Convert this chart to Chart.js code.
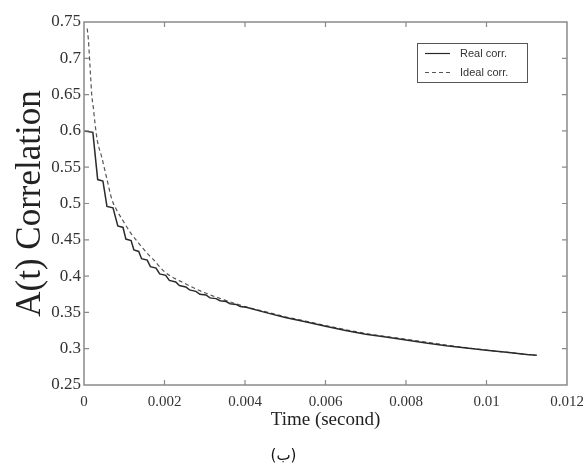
<!DOCTYPE html>
<html>
<head>
<meta charset="utf-8">
<script src="https://cdn.jsdelivr.net/npm/chart.js@4"></script>
<style>
  html, body { margin: 0; padding: 0; background: #ffffff; }
  #wrap { width: 583px; height: 473px; }
</style>
</head>
<body>
<div id="wrap"><canvas id="c" width="583" height="473"></canvas></div>
<script>
// ---- data ----
const seriesNames = ['Real corr.', 'Ideal corr.'];

// Real correlation: staircase corners (flat part start/end) then the smooth tail
const realTime = [0, 0.00022, 0.00034, 0.00047, 0.00057, 0.00072, 0.00084, 0.00097,
  0.00104, 0.00117, 0.00124, 0.00136, 0.00143, 0.00157, 0.00165, 0.00179,
  0.00188, 0.00203, 0.00212, 0.00228, 0.00237, 0.00253, 0.00262, 0.00278,
  0.00288, 0.00303, 0.00313, 0.00328, 0.00338, 0.00353, 0.00363, 0.00378,
  0.00388, 0.00403,
  0.0045, 0.005, 0.0055, 0.006, 0.0065, 0.007, 0.0075, 0.008, 0.0085, 0.009,
  0.0095, 0.01, 0.0105, 0.011, 0.01125];
const realValue = [0.600, 0.598, 0.533, 0.531, 0.496, 0.494, 0.469, 0.467,
  0.451, 0.449, 0.436, 0.434, 0.424, 0.422, 0.413, 0.411,
  0.403, 0.401, 0.394, 0.392, 0.387, 0.385, 0.381, 0.379,
  0.375, 0.374, 0.370, 0.369, 0.366, 0.365, 0.362, 0.361,
  0.358, 0.357,
  0.350, 0.343, 0.337, 0.331, 0.325, 0.320, 0.316, 0.312, 0.308, 0.304,
  0.301, 0.298, 0.295, 0.292, 0.291];

// Ideal correlation: smooth dashed curve
const idealTime = [0.00008, 0.00011, 0.00013, 0.00015, 0.00017, 0.00019, 0.00023, 0.00027, 0.00033,
  0.00044, 0.00056, 0.00069, 0.00082, 0.00094, 0.00114, 0.00135, 0.00156, 0.00172,
  0.002, 0.0025, 0.003, 0.0035, 0.004, 0.0045, 0.005, 0.0055, 0.006, 0.007, 0.008,
  0.009, 0.01, 0.0112];
const idealValue = [0.741, 0.725, 0.707, 0.688, 0.670, 0.651, 0.633, 0.612, 0.587,
  0.564, 0.536, 0.506, 0.490, 0.479, 0.461, 0.446, 0.432, 0.423,
  0.406, 0.390, 0.377, 0.367, 0.358, 0.351, 0.344, 0.338, 0.332, 0.321, 0.313,
  0.305, 0.298, 0.291];

const xTickLabels = ['0', '0.002', '0.004', '0.006', '0.008', '0.01', '0.012'];
const yTickLabels = ['0.25', '0.3', '0.35', '0.4', '0.45', '0.5', '0.55', '0.6', '0.65', '0.7', '0.75'];
const xTitle = 'Time (second)';
const yTitle = 'A(t) Correlation';
const caption = '(ب)';

// ---- build ----
const toPoints = (xs, ys) => xs.map((x, i) => ({x: x, y: ys[i]}));

const frameColor = '#8a8a8a';
const textColor = '#333333';

const boxAndTicks = {
  id: 'boxAndTicks',
  beforeDraw(chart) {
    const ctx = chart.ctx;
    ctx.save();
    ctx.fillStyle = '#ffffff';
    ctx.fillRect(0, 0, chart.width, chart.height);
    ctx.restore();
  },
  afterDraw(chart) {
    const ctx = chart.ctx;
    const a = chart.chartArea;
    const xs = chart.scales.x, ys = chart.scales.y;
    ctx.save();
    ctx.strokeStyle = frameColor;
    ctx.lineWidth = 1.5;
    ctx.strokeRect(a.left, a.top, a.right - a.left, a.bottom - a.top);
    ctx.lineWidth = 1.2;
    const len = 5;
    ctx.beginPath();
    xs.ticks.forEach((t, i) => {
      const px = xs.getPixelForTick(i);
      if (px <= a.left + 1 || px >= a.right - 1) return;
      ctx.moveTo(px, a.bottom); ctx.lineTo(px, a.bottom - len);
      ctx.moveTo(px, a.top); ctx.lineTo(px, a.top + len);
    });
    ys.ticks.forEach((t, i) => {
      const py = ys.getPixelForTick(i);
      if (py <= a.top + 1 || py >= a.bottom - 1) return;
      ctx.moveTo(a.left, py); ctx.lineTo(a.left + len, py);
      ctx.moveTo(a.right, py); ctx.lineTo(a.right - len, py);
    });
    ctx.stroke();

    // legend box inside the plot
    const lx = a.right - 150, ly = a.top + 21, lw = 110, lh = 39;
    ctx.fillStyle = '#ffffff';
    ctx.fillRect(lx, ly, lw, lh);
    ctx.strokeStyle = '#555555';
    ctx.lineWidth = 1;
    ctx.strokeRect(lx + 0.5, ly + 0.5, lw, lh);
    chart.data.datasets.forEach((ds, i) => {
      const yy = ly + 10.5 + i * 19;
      ctx.strokeStyle = ds.borderColor;
      ctx.lineWidth = 1.2;
      ctx.setLineDash(ds.borderDash || []);
      ctx.beginPath();
      ctx.moveTo(lx + 8, yy); ctx.lineTo(lx + 33, yy);
      ctx.stroke();
      ctx.setLineDash([]);
      ctx.fillStyle = textColor;
      ctx.font = '11px "Liberation Sans", Arial, sans-serif';
      ctx.textBaseline = 'middle';
      ctx.textAlign = 'left';
      ctx.fillText(ds.label, lx + 43, yy);
    });
    ctx.restore();
  }
};

new Chart(document.getElementById('c'), {
  type: 'line',
  data: {
    datasets: [
      {
        label: seriesNames[0],
        data: toPoints(realTime, realValue),
        borderColor: '#2a2a2a',
        borderWidth: 1.5,
        pointRadius: 0,
        fill: false
      },
      {
        label: seriesNames[1],
        data: toPoints(idealTime, idealValue),
        borderColor: '#555555',
        borderWidth: 1.2,
        borderDash: [4, 3],
        cubicInterpolationMode: 'monotone',
        pointRadius: 0,
        fill: false
      }
    ]
  },
  options: {
    responsive: false,
    animation: false,
    devicePixelRatio: 1,
    layout: { padding: { top: 22, right: 16, left: 0, bottom: 0 } },
    plugins: {
      legend: { display: false },
      tooltip: { enabled: false },
      title: {
        display: true,
        position: 'bottom',
        text: caption,
        color: '#111111',
        font: { family: '"DejaVu Sans", sans-serif', size: 15, weight: 'normal' },
        padding: { top: 2, bottom: 8 }
      }
    },
    scales: {
      x: {
        type: 'linear',
        min: 0, max: 0.012,
        afterFit(s) { s.height = 60; s.paddingRight = 0; s.paddingLeft = 0; },
        ticks: {
          stepSize: 0.002,
          autoSkip: false,
          maxRotation: 0,
          padding: 8,
          color: textColor,
          font: { family: '"Liberation Serif", "Times New Roman", serif', size: 15 },
          callback: (v, i) => xTickLabels[i]
        },
        grid: { display: true, drawOnChartArea: false, drawTicks: false },
        border: { display: false },
        title: {
          display: true,
          text: xTitle,
          color: '#222222',
          font: { family: '"Liberation Serif", "Times New Roman", serif', size: 19 },
          padding: { top: 0, bottom: 14 }
        }
      },
      y: {
        type: 'linear',
        min: 0.25, max: 0.75,
        afterFit(s) { s.width = 84; s.paddingTop = 0; s.paddingBottom = 0; },
        ticks: {
          stepSize: 0.05,
          autoSkip: false,
          padding: 3,
          color: textColor,
          font: { family: '"Liberation Serif", "Times New Roman", serif', size: 17 },
          callback: (v, i) => yTickLabels[i]
        },
        grid: { display: true, drawOnChartArea: false, drawTicks: false },
        border: { display: false },
        title: {
          display: true,
          text: yTitle,
          color: '#222222',
          font: { family: '"Liberation Serif", "Times New Roman", serif', size: 35 },
          padding: { top: 10, bottom: 0 }
        }
      }
    }
  },
  plugins: [boxAndTicks]
});
</script>
</body>
</html>
